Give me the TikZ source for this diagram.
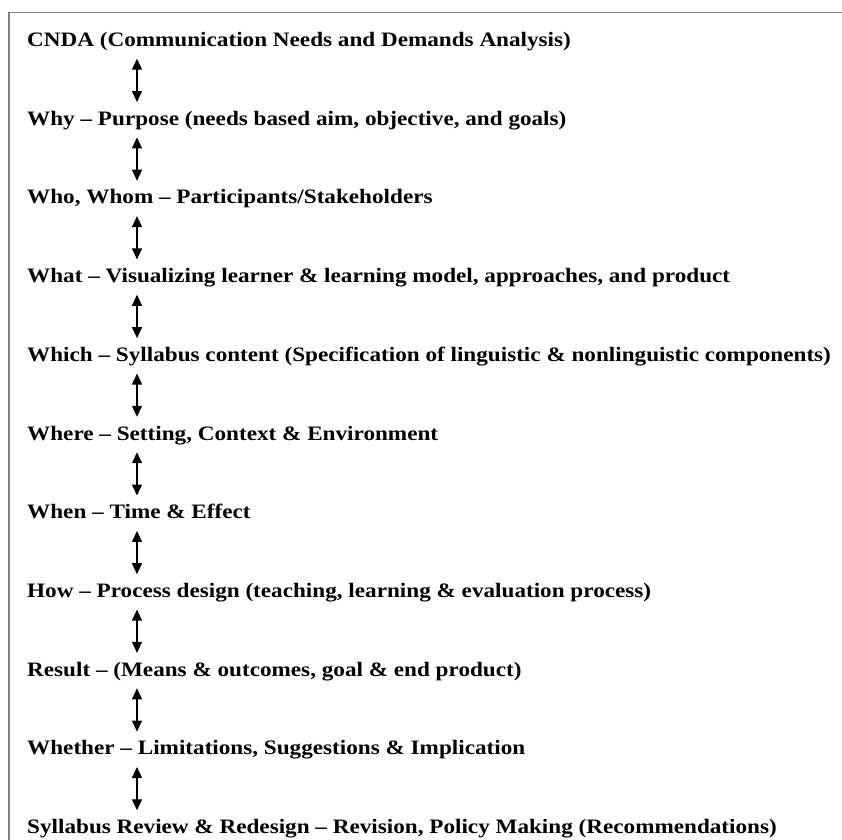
\documentclass[tikz,border=0pt]{standalone}
\usepackage{fontspec}
\setmainfont{Liberation Serif}[FakeStretch=1.13]
\usetikzlibrary{arrows.meta}

\tikzset{
  stage/.style={anchor=base west, inner sep=0pt, text height=14pt, text depth=5pt,
    font=\fontsize{20.5}{24}\selectfont\bfseries},
  dbl/.style={{Triangle[width=10pt,length=11pt]}-{Triangle[width=10pt,length=11pt]},
    line width=1.3pt, shorten <=7pt, shorten >=9pt},
}

\begin{document}
\begin{tikzpicture}[x=1pt,y=-1pt]
                \useasboundingbox (0,0) rectangle (842,839);
                \clip (0,0) rectangle (842,839);
                \draw[gray, line width=1.5pt] (9,12.7) rectangle (900,900);

                \node[stage] (cnda) at (27, 46.5) {CNDA (Communication Needs and Demands Analysis)};
                \node[stage] (why) at (27, 125.2) {Why – Purpose (needs based aim, objective, and goals)};
                \node[stage] (who) at (27, 203.9) {Who, Whom – Participants/Stakeholders};
                \node[stage] (what) at (27, 282.6) {What – Visualizing learner \& learning model, approaches, and product};
                \node[stage] (which) at (27, 361.3) {Which – Syllabus content (Specification of linguistic \& nonlinguistic components)};
                \node[stage] (where) at (27, 440) {Where – Setting, Context \& Environment};
                \node[stage] (when) at (27, 518.7) {When – Time \& Effect};
                \node[stage] (how) at (27, 597.4) {How – Process design (teaching, learning \& evaluation process)};
                \node[stage] (result) at (27, 676.1) {Result – (Means \& outcomes, goal \& end product)};
                \node[stage] (whether) at (27, 754.8) {Whether – Limitations, Suggestions \& Implication};
                \node[stage] (review) at (27, 833.5) {Syllabus Review \& Redesign – Revision, Policy Making (Recommendations)};

                \coordinate (ax) at (137, 0);

                \draw[dbl] (cnda.south -| ax) to (why.north -| ax);
                \draw[dbl] (why.south -| ax) to (who.north -| ax);
                \draw[dbl] (who.south -| ax) to (what.north -| ax);
                \draw[dbl] (what.south -| ax) to (which.north -| ax);
                \draw[dbl] (which.south -| ax) to (where.north -| ax);
                \draw[dbl] (where.south -| ax) to (when.north -| ax);
                \draw[dbl] (when.south -| ax) to (how.north -| ax);
                \draw[dbl] (how.south -| ax) to (result.north -| ax);
                \draw[dbl] (result.south -| ax) to (whether.north -| ax);
                \draw[dbl] (whether.south -| ax) to (review.north -| ax);
            \end{tikzpicture}
\end{document}
